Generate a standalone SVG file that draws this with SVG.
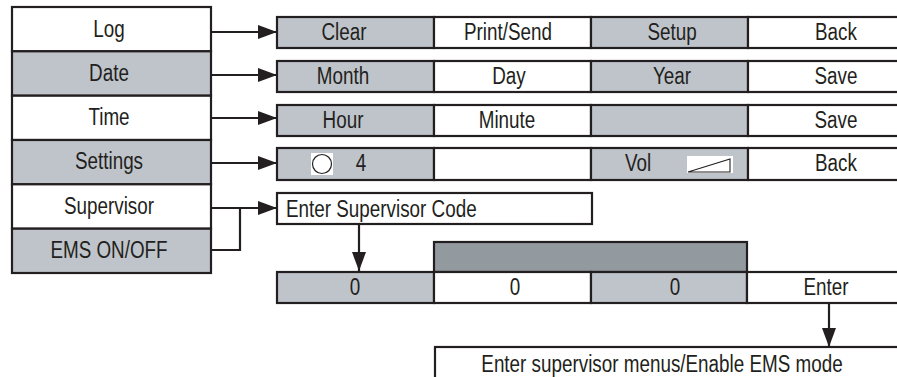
<svg xmlns="http://www.w3.org/2000/svg" width="897" height="377" viewBox="0 0 897 377">
<style>
.b{stroke:#231f20;stroke-width:2.2}
.w{fill:#ffffff}
.g{fill:#bfc4ca}
.d{fill:#939a9f}
.t{font-family:"Liberation Sans",Arial,sans-serif;font-size:23px;fill:#231f20;text-anchor:middle}
.s{text-anchor:start}
.ln{fill:none;stroke:#231f20;stroke-width:2.2}
</style>
<defs>
<marker id="ah" markerUnits="userSpaceOnUse" markerWidth="20" markerHeight="16" refX="19" refY="7" orient="auto">
<path d="M0,0 L19,7 L0,14 Z" fill="#231f20"/>
</marker>
</defs>
<rect width="897" height="377" fill="#ffffff"/>

<g id="menu-log"><rect class="b w" x="12" y="7" width="199" height="44.3"/><text class="t" transform="translate(109,36.5) scale(0.82,1)">Log</text></g>
<g id="menu-date"><rect class="b g" x="12" y="51.3" width="199" height="44.4"/><text class="t" transform="translate(109,80.5) scale(0.82,1)">Date</text></g>
<g id="menu-time"><rect class="b w" x="12" y="95.7" width="199" height="44.3"/><text class="t" transform="translate(109,125) scale(0.82,1)">Time</text></g>
<g id="menu-settings"><rect class="b g" x="12" y="140" width="199" height="44.3"/><text class="t" transform="translate(109,169) scale(0.82,1)">Settings</text></g>
<g id="menu-supervisor"><rect class="b w" x="12" y="184.3" width="199" height="44.4"/><text class="t" transform="translate(109,213.5) scale(0.82,1)">Supervisor</text></g>
<g id="menu-ems"><rect class="b g" x="12" y="228.7" width="199" height="44.3"/><text class="t" transform="translate(109,258) scale(0.82,1)">EMS ON/OFF</text></g>

<g id="row-log">
<rect class="b g" x="277" y="17" width="157" height="31"/><rect class="b w" x="434" y="17" width="157" height="31"/><rect class="b g" x="591" y="17" width="157" height="31"/><rect class="b w" x="748" y="17" width="160" height="31"/>
<text class="t" transform="translate(344,39.5) scale(0.82,1)">Clear</text>
<text class="t" transform="translate(508,39.5) scale(0.82,1)">Print/Send</text>
<text class="t" transform="translate(672,39.5) scale(0.82,1)">Setup</text>
<text class="t" transform="translate(836,39.5) scale(0.82,1)">Back</text>
</g>
<g id="row-date">
<rect class="b g" x="277" y="61" width="157" height="31"/><rect class="b w" x="434" y="61" width="157" height="31"/><rect class="b g" x="591" y="61" width="157" height="31"/><rect class="b w" x="748" y="61" width="160" height="31"/>
<text class="t" transform="translate(343,83.5) scale(0.82,1)">Month</text>
<text class="t" transform="translate(509,83.5) scale(0.82,1)">Day</text>
<text class="t" transform="translate(672,83.5) scale(0.82,1)">Year</text>
<text class="t" transform="translate(836,83.5) scale(0.82,1)">Save</text>
</g>
<g id="row-time">
<rect class="b g" x="277" y="105" width="157" height="31"/><rect class="b w" x="434" y="105" width="157" height="31"/><rect class="b g" x="591" y="105" width="157" height="31"/><rect class="b w" x="748" y="105" width="160" height="31"/>
<text class="t" transform="translate(343,127.5) scale(0.82,1)">Hour</text>
<text class="t" transform="translate(507,127.5) scale(0.82,1)">Minute</text>
<text class="t" transform="translate(836,127.5) scale(0.82,1)">Save</text>
</g>
<g id="row-settings">
<rect class="b g" x="277" y="148" width="157" height="32"/><rect class="b w" x="434" y="148" width="157" height="32"/><rect class="b g" x="591" y="148" width="157" height="32"/><rect class="b w" x="748" y="148" width="160" height="32"/>
<rect x="311" y="153" width="22" height="22" fill="#ffffff"/>
<circle cx="322" cy="164" r="9.5" fill="none" stroke="#231f20" stroke-width="1.2"/>
<text class="t" transform="translate(361,171) scale(0.82,1)">4</text>
<text class="t" transform="translate(638,171) scale(0.82,1)">Vol</text>
<rect x="687" y="156" width="46" height="17" fill="#ffffff"/>
<path d="M688,172 L730,159 L730,172 Z" fill="none" stroke="#231f20" stroke-width="1.1"/>
<text class="t" transform="translate(836,171) scale(0.82,1)">Back</text>
</g>
<g id="code-prompt">
<rect class="b w" x="277" y="193" width="315" height="31"/>
<text class="t s" transform="translate(286,216.5) scale(0.82,1)">Enter Supervisor Code</text>
</g>
<g id="code-bar"><rect class="b d" x="434" y="242" width="313" height="30"/></g>
<g id="code-row">
<rect class="b g" x="277" y="272" width="157" height="31"/><rect class="b w" x="434" y="272" width="157" height="31"/><rect class="b g" x="591" y="272" width="156" height="31"/><rect class="b w" x="747" y="272" width="161" height="31"/>
<text class="t" transform="translate(355,294.5) scale(0.82,1)">0</text>
<text class="t" transform="translate(515,294.5) scale(0.82,1)">0</text>
<text class="t" transform="translate(675,294.5) scale(0.82,1)">0</text>
<text class="t" transform="translate(826,294.5) scale(0.82,1)">Enter</text>
</g>
<g id="result">
<rect class="b w" x="435" y="347" width="475" height="40"/>
<text class="t" transform="translate(662,371.5) scale(0.82,1)">Enter supervisor menus/Enable EMS mode</text>
</g>

<g id="connectors">
<line class="ln" x1="211" y1="32" x2="277" y2="32" marker-end="url(#ah)"/>
<line class="ln" x1="211" y1="75" x2="277" y2="75" marker-end="url(#ah)"/>
<line class="ln" x1="211" y1="118" x2="277" y2="118" marker-end="url(#ah)"/>
<line class="ln" x1="211" y1="163" x2="277" y2="163" marker-end="url(#ah)"/>
<line class="ln" x1="211" y1="208" x2="277" y2="208" marker-end="url(#ah)"/>
<polyline class="ln" points="211,250 240,250 240,208"/>
<line class="ln" x1="359" y1="224" x2="359" y2="271" marker-end="url(#ah)"/>
<line class="ln" x1="829" y1="303" x2="829" y2="347" marker-end="url(#ah)"/>
</g>
</svg>
